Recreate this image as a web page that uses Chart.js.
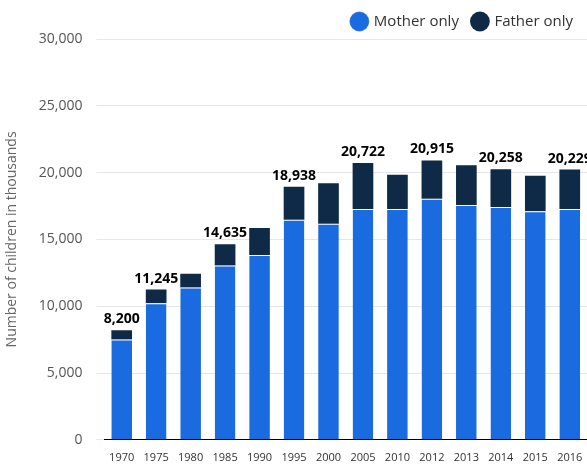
<!DOCTYPE html>
<html><head><script src="https://cdn.jsdelivr.net/npm/chart.js"></script>
<style>body{margin:0;overflow:hidden}#w{width:587px;height:467px}</style></head>
<body><div id="w"><canvas id="c"></canvas></div>
<script>
const categories=["1970","1975","1980","1985","1990","1995","2000","2005","2010","2012","2013","2014","2015","2016"];
const motherOnly=[7500,10230,11400,13050,13830,16480,16170,17270,17270,18050,17580,17420,17100,17270];
const totals=[8200,11245,12420,14635,15860,18938,19200,20722,19840,20915,20550,20258,19770,20229];
const fatherOnly=totals.map((t,i)=>t-motherOnly[i]);
const labelIdx=[0,1,3,5,7,9,11,13];
const lbl={id:'lbl',afterDatasetsDraw(ch){const c=ch.ctx,m=ch.getDatasetMeta(1);c.save();c.font='bold 14px "Open Sans"';c.fillStyle='#000';c.textAlign='center';c.textBaseline='bottom';
labelIdx.forEach(i=>{const b=m.data[i];c.fillText(totals[i].toLocaleString('en-US'),b.x,b.y-4);});c.restore();}};
new Chart(document.getElementById('c'),{type:'bar',data:{labels:categories,datasets:[
{label:'Mother only',data:motherOnly,backgroundColor:'#1a6be0',borderColor:'#fff',borderWidth:{top:1},borderSkipped:false,stack:'s',categoryPercentage:0.8,barPercentage:0.75},
{label:'Father only',data:fatherOnly,backgroundColor:'#0f2a47',borderWidth:0,stack:'s',categoryPercentage:0.8,barPercentage:0.75}]},
options:{responsive:true,maintainAspectRatio:false,animation:false,layout:{padding:{left:0,right:0,top:0,bottom:0}},
plugins:{legend:{position:'top',align:'end',labels:{usePointStyle:true,pointStyle:'circle',boxWidth:14,boxHeight:14,font:{size:15,family:'Open Sans'},color:'#333',padding:14}},tooltip:{enabled:false}},
scales:{x:{stacked:true,grid:{display:false},border:{color:'#000'},ticks:{font:{size:11,family:'Open Sans'},color:'#333'}},
y:{stacked:true,min:0,max:30000,ticks:{stepSize:5000,font:{size:14,family:'Open Sans'},color:'#555',padding:14,callback:v=>v.toLocaleString('en-US')},grid:{color:'#e6e6e6'},border:{display:false},
title:{display:true,text:'Number of children in thousands',font:{size:14,family:'Open Sans'},color:'#666'}}}},plugins:[lbl]});
</script></body></html>
